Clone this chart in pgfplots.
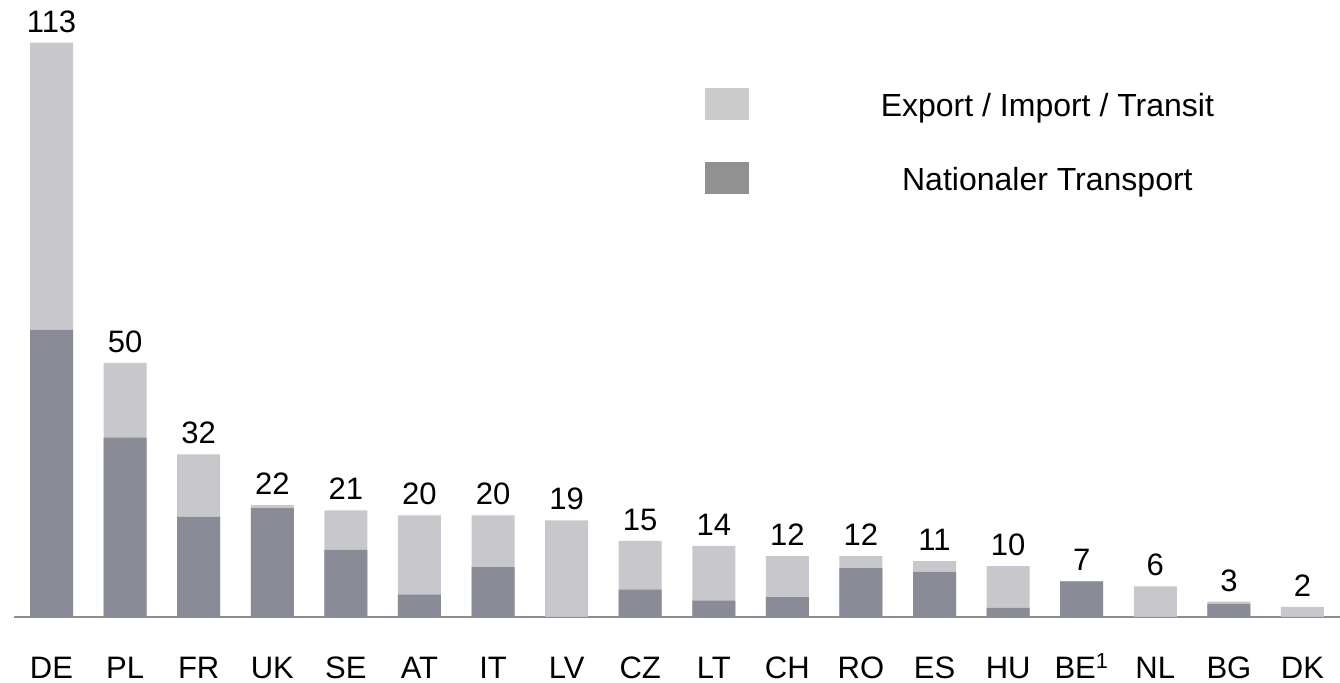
\documentclass[border=0pt]{standalone}
\usepackage{fontspec}
\setmainfont{Liberation Sans}
\usepackage{pgfplots}
\usepackage{pgfplotstable}
\pgfplotsset{compat=1.18}

\definecolor{natdark}{HTML}{898C96}
\definecolor{explight}{HTML}{C8C8CC}
\definecolor{legdark}{HTML}{919191}
\definecolor{leglight}{HTML}{CCCCCC}
\definecolor{axisgray}{HTML}{8A8D96}

% total rail freight per country and its national share
\pgfplotstableread{
x  total nat
0  113   56.5
1  50    35.3
2  32    19.7
3  22    21.4
4  21    13.2
5  20    4.4
6  20    9.8
7  19    0
8  15    5.4
9  14    3.2
10 12    3.9
11 12    9.6
12 11    8.9
13 10    1.8
14 7     7
15 6     0
16 3     2.6
17 2     0
}\trafficdata

\begin{document}
\begin{tikzpicture}
\begin{axis}[
  scale only axis,
  width=663pt, height=308.5pt,
  xmin=-0.51, xmax=17.51,
  ymin=0, ymax=121.4,
  ybar, bar shift=0pt,
  bar width=21.5pt,
  axis x line*=bottom,
  axis y line=none,
  x axis line style={axisgray, line width=1pt, -},
  xtick={0,...,17},
  xticklabels={DE,PL,FR,UK,SE,AT,IT,LV,CZ,LT,CH,RO,ES,HU,BE\textsuperscript{1},NL,BG,DK},
  major tick length=0pt,
  xticklabel style={font=\fontsize{15.5}{18}\selectfont, anchor=base, yshift=-31pt},
  ytick=\empty,
  clip=false,
  legend style={
    at={(axis description cs:0.5211,0.8574)}, anchor=north west,
    draw=none, fill=none, inner sep=0pt,
    row sep=21pt, column sep=49pt,
    font=\fontsize{16}{19}\selectfont,
    nodes={inner sep=0pt},
  },
]
% full bar: export / import / transit on top of the national part
\addplot[fill=explight, draw=none, bar shift=0pt,
  legend image code/.code={\fill[leglight] (0pt,-8pt) rectangle (22pt,8pt);},
  point meta=explicit symbolic,
  nodes near coords,
  every node near coord/.append style={font=\fontsize{15.5}{18}\selectfont, anchor=base, yshift=5.3pt, text=black}]
  table[x=x, y=total, meta=total] {\trafficdata};
\addlegendentry{\makebox[200pt]{\raisebox{-2pt}{Export / Import / Transit}}}

% national transport
\addplot[fill=natdark, draw=none, bar shift=0pt,
  legend image code/.code={\fill[legdark] (0pt,-8pt) rectangle (22pt,8pt);}]
  table[x=x, y=nat] {\trafficdata};
\addlegendentry{\makebox[200pt]{\raisebox{-2pt}{Nationaler Transport}}}

\coordinate (bl) at (rel axis cs:0,0);
\coordinate (tr) at (rel axis cs:1,1);
\end{axis}
\pgfresetboundingbox
\path[use as bounding box] ([shift={(-7pt,-33pt)}]bl) rectangle (tr);
\end{tikzpicture}
\end{document}
